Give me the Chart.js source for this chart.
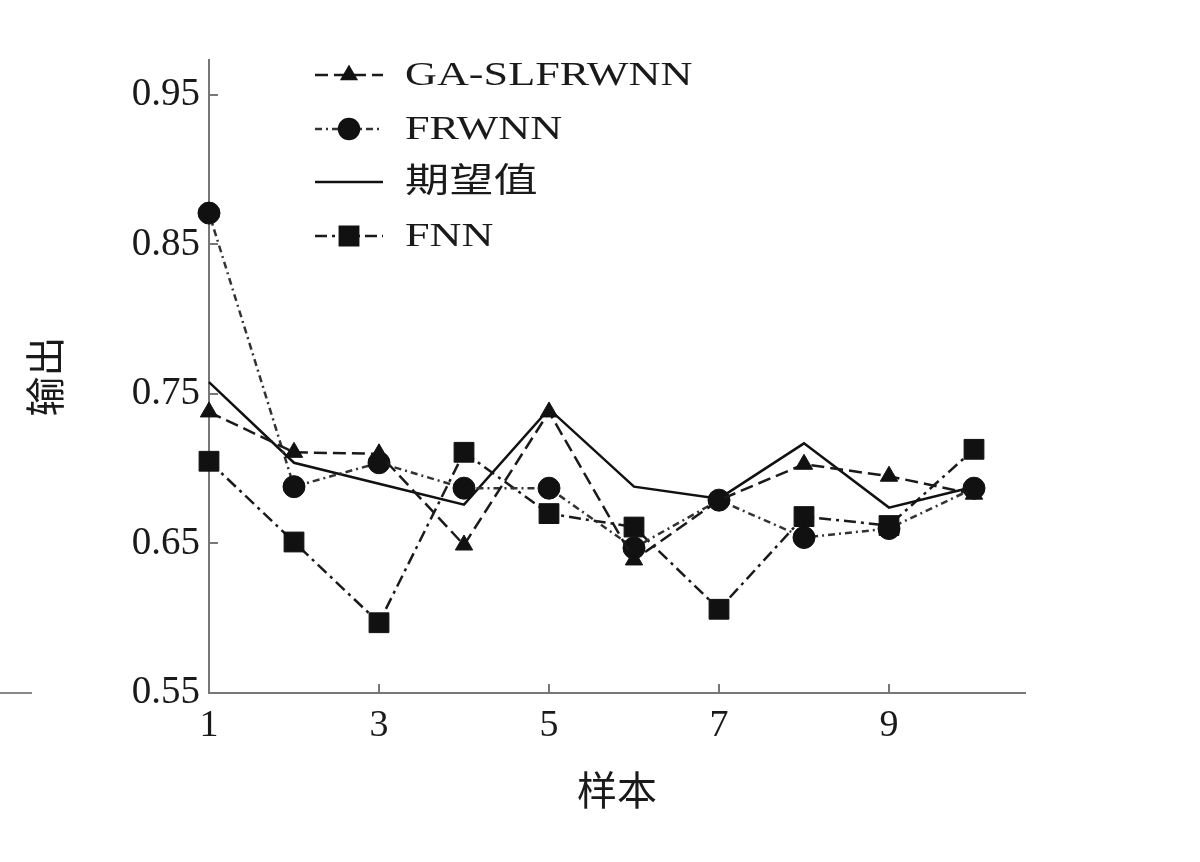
<!DOCTYPE html>
<html>
<head>
<meta charset="utf-8">
<script src="https://cdn.jsdelivr.net/npm/chart.js@4/dist/chart.umd.min.js"></script>
<style>
  html, body { margin: 0; padding: 0; background: #fff; }
  #wrap { width: 1200px; height: 862px; }
</style>
</head>
<body>
<div id="wrap"><canvas id="out-chart" width="1200" height="862"></canvas></div>
<script>
const samples = [1, 2, 3, 4, 5, 6, 7, 8, 9, 10];
const gaSlfrwnn = [0.738, 0.711, 0.710, 0.649, 0.738, 0.639, 0.679, 0.703, 0.695, 0.683];
const frwnn = [0.871, 0.688, 0.704, 0.687, 0.687, 0.647, 0.679, 0.654, 0.660, 0.687];
const expected = [0.758, 0.704, 0.690, 0.676, 0.740, 0.688, 0.680, 0.717, 0.674, 0.688];
const fnn = [0.705, 0.651, 0.597, 0.711, 0.670, 0.661, 0.606, 0.668, 0.662, 0.713];
const xTicks = [1, 3, 5, 7, 9];
const yTicks = [0.55, 0.65, 0.75, 0.85, 0.95];

const serif = "'Liberation Serif', 'Noto Sans CJK SC', serif";
const cjk = "'Noto Sans CJK SC', sans-serif";

function pts(vals) {
  return samples.map((x, i) => ({ x: x, y: vals[i] }));
}

const series = [
  { label: "GA-SLFRWNN", data: pts(gaSlfrwnn), borderColor: "#1a1a1a", backgroundColor: "#111",
    borderDash: [13, 6], pointStyle: "triangle", pointRadius: 10, legendRadius: 8 },
  { label: "FRWNN", data: pts(frwnn), borderColor: "#333", backgroundColor: "#111",
    borderDash: [7, 4, 2, 4], pointStyle: "circle", pointRadius: 11, legendRadius: 10 },
  { label: "期望值", data: pts(expected), borderColor: "#111", backgroundColor: "#111",
    borderDash: [], pointStyle: "circle", pointRadius: 0, legendRadius: 0 },
  { label: "FNN", data: pts(fnn), borderColor: "#1a1a1a", backgroundColor: "#111",
    borderDash: [12, 5, 3, 5], pointStyle: "rect", pointRadius: 14, legendRadius: 13 },
];

// legend drawn by hand: line sample with the marker in the middle
const legendPlugin = {
  id: "handLegend",
  afterDraw(chart) {
    const ctx = chart.ctx;
    const rows = [75, 129, 182, 236];
    chart.data.datasets.forEach((ds, i) => {
      const y = rows[i];
      ctx.save();
      ctx.strokeStyle = ds.borderColor;
      ctx.lineWidth = 2.5;
      ctx.setLineDash(ds.borderDash);
      ctx.beginPath();
      ctx.moveTo(315, y);
      ctx.lineTo(383, y);
      ctx.stroke();
      ctx.setLineDash([]);
      if (ds.legendRadius > 0) {
        ctx.fillStyle = ds.backgroundColor;
        ctx.strokeStyle = ds.backgroundColor;
        Chart.helpers.drawPoint(ctx, { pointStyle: ds.pointStyle, radius: ds.legendRadius, rotation: 0, borderWidth: 1 }, 349, y);
      }
      // the scan is stretched sideways, so widen the text a bit
      ctx.translate(405, y + 1);
      ctx.scale(1.3, 1);
      ctx.fillStyle = "#1a1a1a";
      ctx.font = "34px " + serif;
      ctx.textBaseline = "middle";
      ctx.fillText(ds.label, 0, 0);
      ctx.restore();
    });
    // small stray rule at the left edge, as in the scan
    ctx.save();
    ctx.strokeStyle = "#888";
    ctx.lineWidth = 2;
    ctx.beginPath();
    ctx.moveTo(0, 693);
    ctx.lineTo(32, 693);
    ctx.stroke();
    ctx.restore();
  }
};

const ctx = document.getElementById("out-chart").getContext("2d");
new Chart(ctx, {
  type: "line",
  data: {
    datasets: series.map(s => ({
      label: s.label,
      data: s.data,
      borderColor: s.borderColor,
      backgroundColor: s.backgroundColor,
      borderDash: s.borderDash,
      borderWidth: 2.5,
      pointStyle: s.pointStyle,
      pointRadius: s.pointRadius,
      pointBackgroundColor: s.backgroundColor,
      pointBorderColor: s.backgroundColor,
      pointBorderWidth: 1,
      legendRadius: s.legendRadius,
      tension: 0,
      fill: false,
      clip: false,
    })),
  },
  options: {
    responsive: false,
    animation: false,
    layout: { padding: { top: 60, right: 175, left: 0, bottom: 0 } },
    plugins: {
      legend: { display: false },
      tooltip: { enabled: false },
    },
    scales: {
      x: {
        type: "linear",
        min: 1,
        max: 10.6,
        afterBuildTicks: (scale) => { scale.ticks = xTicks.map(v => ({ value: v })); },
        afterFit: (scale) => { scale.height = 169; },
        grid: { drawOnChartArea: false, tickLength: -9, color: "#777", lineWidth: 2 },
        border: { color: "#777", width: 2 },
        ticks: { color: "#1a1a1a", padding: 19, font: { family: serif, size: 38 } },
        title: {
          display: true,
          text: "样本",
          color: "#1a1a1a",
          font: { family: cjk, size: 40 },
          padding: { top: 0, bottom: 48 },
        },
      },
      y: {
        type: "linear",
        min: 0.55,
        max: 0.9734,
        afterBuildTicks: (scale) => { scale.ticks = yTicks.map(v => ({ value: v })); },
        afterFit: (scale) => { scale.width = 209; },
        grid: { drawOnChartArea: false, tickLength: -9, color: "#777", lineWidth: 2 },
        border: { color: "#777", width: 2 },
        ticks: {
          color: "#1a1a1a",
          padding: 18,
          font: { family: serif, size: 39 },
          callback: (v) => v.toFixed(2),
        },
        title: {
          display: true,
          text: "输出",
          color: "#1a1a1a",
          font: { family: cjk, size: 40 },
          padding: { top: 21, bottom: 0 },
        },
      },
    },
  },
  plugins: [legendPlugin],
});
</script>
</body>
</html>
